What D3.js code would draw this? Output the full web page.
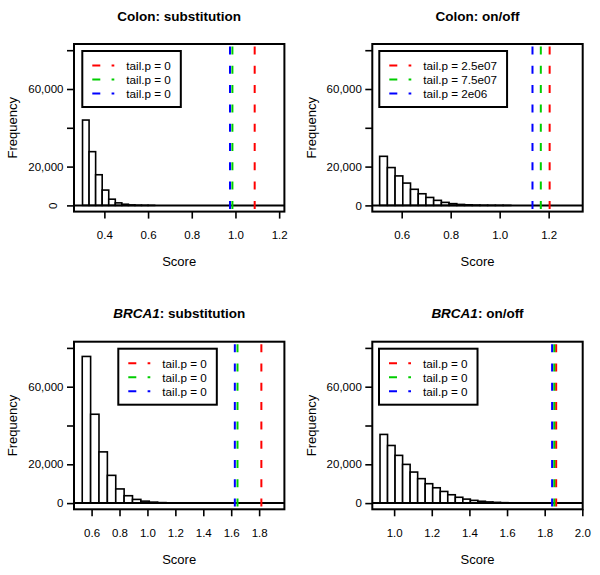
<!DOCTYPE html>
<html>
<head>
<meta charset="utf-8">
<script src="https://cdn.jsdelivr.net/npm/d3@7"></script>
<style>
  body { margin: 0; background: #fff; }
  text { font-family: "Liberation Sans", Arial, Helvetica, sans-serif; fill: #000; }
</style>
</head>
<body>
<div id="chart"></div>
<script>
'use strict';

var W = 600;
var H = 575;

// panel titles
var titleGene = [ 'Colon', 'Colon', 'BRCA1', 'BRCA1' ];
var titleKind = [ 'substitution', 'on/off', 'substitution', 'on/off' ];
var geneItalic = [ false, false, true, true ];

// histogram bins (start, width) and counts
var binStart = [ 0.30, 0.51, 0.533, 0.925 ];
var binWidth = [ 0.03, 0.0315, 0.06, 0.04 ];
var countsColonSub = [ 44000, 27700, 15800, 7900, 3200, 1300, 600, 250, 100, 40, 15 ];
var countsColonOnOff = [ 25300, 19500, 15200, 11500, 8300, 6000, 4100, 2600, 1550, 900,
	500, 300, 170, 90, 50, 25, 12 ];
var countsBrcaSub = [ 75600, 45800, 26400, 14300, 7300, 3800, 1900, 1000, 500, 250, 120, 60 ];
var countsBrcaOnOff = [ 35400, 29700, 24600, 19950, 16000, 12600, 10000, 7900, 6000, 4300,
	3000, 2050, 1400, 950, 600, 380, 220, 120 ];
var counts = [ countsColonSub, countsColonOnOff, countsBrcaSub, countsBrcaOnOff ];

// observed scores (red, green, blue)
var lineColonSub = [ 1.088, 0.986, 0.975 ];
var lineColonOnOff = [ 1.204, 1.168, 1.134 ];
var lineBrcaSub = [ 1.816, 1.645, 1.626 ];
var lineBrcaOnOff = [ 1.861, 1.851, 1.8395 ];
var lineValues = [ lineColonSub, lineColonOnOff, lineBrcaSub, lineBrcaOnOff ];
var lineColors = [ '#ff0000', '#00cd00', '#0000ff' ];

// legend labels
var legendColonSub = [ 'tail.p = 0', 'tail.p = 0', 'tail.p = 0' ];
var legendColonOnOff = [ 'tail.p = 2.5e07', 'tail.p = 7.5e07', 'tail.p = 2e06' ];
var legendBrcaSub = [ 'tail.p = 0', 'tail.p = 0', 'tail.p = 0' ];
var legendBrcaOnOff = [ 'tail.p = 0', 'tail.p = 0', 'tail.p = 0' ];
var legends = [ legendColonSub, legendColonOnOff, legendBrcaSub, legendBrcaOnOff ];

// axes
var xDomains = [ [ 0.261, 1.224 ], [ 0.48, 1.339 ], [ 0.474, 1.981 ], [ 0.884, 2.002 ] ];
var xTicks = [
	[ 0.4, 0.6, 0.8, 1.0, 1.2 ],
	[ 0.6, 0.8, 1.0, 1.2 ],
	[ 0.6, 0.8, 1.0, 1.2, 1.4, 1.6, 1.8 ],
	[ 1.0, 1.2, 1.4, 1.6, 1.8, 2.0 ]
];
var yDomain = [ -3200, 83200 ];
var yTicks = [ 0, 20000, 40000, 60000, 80000 ];
var yLabeled = [ 0, 20000, 60000 ];

// layout
var colX = [ 74, 372.3 ];
var rowY = [ 44, 341.7 ];
var boxW = 210.4;
var boxH = 167.6;
var legendLeft = [ 8.3, 7, 44.3, 6.7 ];

var svg = d3.select('#chart').append('svg')
	.attr('width', W)
	.attr('height', H);

var fmtX = d3.format('.1f');
var fmtY = d3.format(',');

titleGene.forEach(function(gene, p) {
	var left = colX[p % 2];
	var top = rowY[Math.floor(p / 2)];

	var x = d3.scaleLinear().domain(xDomains[p]).range([ left, left + boxW ]);
	var y = d3.scaleLinear().domain(yDomain).range([ top + boxH, top ]);

	var g = svg.append('g');

	// bars
	g.selectAll('rect.bar')
		.data(counts[p])
		.enter().append('rect')
		.attr('class', 'bar')
		.attr('x', function(d, i) { return x(binStart[p] + i * binWidth[p]); })
		.attr('width', function(d, i) {
			return x(binStart[p] + (i + 1) * binWidth[p]) - x(binStart[p] + i * binWidth[p]);
		})
		.attr('y', function(d) { return y(d); })
		.attr('height', function(d) { return y(0) - y(d); })
		.attr('fill', '#fff')
		.attr('stroke', '#000')
		.attr('stroke-width', 1.6);

	// zero line
	g.append('line')
		.attr('x1', left).attr('x2', left + boxW)
		.attr('y1', y(0)).attr('y2', y(0))
		.attr('stroke', '#000')
		.attr('stroke-width', 2);

	// observed score lines, red first so blue ends on top
	g.selectAll('line.obs')
		.data(lineValues[p])
		.enter().append('line')
		.attr('class', 'obs')
		.attr('x1', function(d) { return x(d); })
		.attr('x2', function(d) { return x(d); })
		.attr('y1', top).attr('y2', top + boxH)
		.attr('stroke', function(d, i) { return lineColors[i]; })
		.attr('stroke-width', 2)
		.attr('stroke-dasharray', '8,11.3')
		.attr('stroke-dashoffset', -2.5);

	// x axis
	var xa = g.append('g')
		.attr('transform', 'translate(0,' + (top + boxH) + ')')
		.call(d3.axisBottom(x).tickValues(xTicks[p]).tickSize(7).tickSizeOuter(0).tickFormat(fmtX));
	xa.select('.domain').remove();
	xa.selectAll('line').attr('stroke-width', 1.6);
	xa.selectAll('text')
		.attr('y', 27.5)
		.attr('dy', 0)
		.style('font-size', '11.5px')
		.style('font-family', null);

	// y axis
	var ya = g.append('g')
		.attr('transform', 'translate(' + left + ',0)')
		.call(d3.axisLeft(y).tickValues(yTicks).tickSize(7).tickSizeOuter(0)
			.tickFormat(function(d) { return yLabeled.indexOf(d) >= 0 ? fmtY(d) : ''; }));
	ya.select('.domain').remove();
	ya.selectAll('line').attr('stroke-width', 1.6);
	ya.selectAll('text')
		.attr('x', -10.5)
		.style('font-size', '11.5px')
		.style('font-family', null);
	if (p === 0) {
		// the zero label is drawn sideways in this panel
		ya.selectAll('.tick').filter(function(d) { return d === 0; }).select('text')
			.attr('x', 0).attr('dy', 0)
			.attr('text-anchor', 'middle')
			.attr('dominant-baseline', 'central')
			.attr('transform', 'translate(-21,0) rotate(-90)');
	}

	// box
	g.append('rect')
		.attr('x', left).attr('y', top)
		.attr('width', boxW).attr('height', boxH)
		.attr('fill', 'none')
		.attr('stroke', '#000')
		.attr('stroke-width', 2);

	// title
	var t = g.append('text')
		.attr('x', left + boxW / 2)
		.attr('y', top - 23.5)
		.attr('text-anchor', 'middle')
		.style('font-size', '13.5px')
		.style('font-weight', 'bold');
	t.append('tspan')
		.style('font-style', geneItalic[p] ? 'italic' : 'normal')
		.text(gene);
	t.append('tspan').text(': ' + titleKind[p]);

	// axis titles
	g.append('text')
		.attr('x', left + boxW / 2)
		.attr('y', top + boxH + 54.5)
		.attr('text-anchor', 'middle')
		.style('font-size', '13px')
		.text('Score');
	g.append('text')
		.attr('transform', 'translate(' + (left - 61.3) + ',' + (top + boxH / 2) + ') rotate(-90)')
		.attr('text-anchor', 'middle')
		.attr('dominant-baseline', 'central')
		.style('font-size', '13px')
		.text('Frequency');

	// legend
	var lx = left + legendLeft[p];
	var ly = top + 7;
	var lg = g.append('g');
	var frame = lg.append('rect')
		.attr('x', lx).attr('y', ly)
		.attr('height', 56)
		.attr('fill', '#fff')
		.attr('stroke', '#000')
		.attr('stroke-width', 2);
	lg.selectAll('line.key')
		.data(legends[p])
		.enter().append('line')
		.attr('class', 'key')
		.attr('x1', lx + 10).attr('x2', lx + 32)
		.attr('y1', function(d, i) { return ly + 14.5 + i * 14; })
		.attr('y2', function(d, i) { return ly + 14.5 + i * 14; })
		.attr('stroke', function(d, i) { return lineColors[i]; })
		.attr('stroke-width', 2)
		.attr('stroke-dasharray', '8,11.3');
	var labels = lg.selectAll('text.key')
		.data(legends[p])
		.enter().append('text')
		.attr('class', 'key')
		.attr('x', lx + 44)
		.attr('y', function(d, i) { return ly + 14.5 + i * 14; })
		.attr('dominant-baseline', 'central')
		.style('font-size', '11.7px')
		.text(function(d) { return d; });
	var maxW = d3.max(labels.nodes(), function(n) { return n.getComputedTextLength(); });
	frame.attr('width', 44 + maxW + 10);
});
</script>
</body>
</html>
